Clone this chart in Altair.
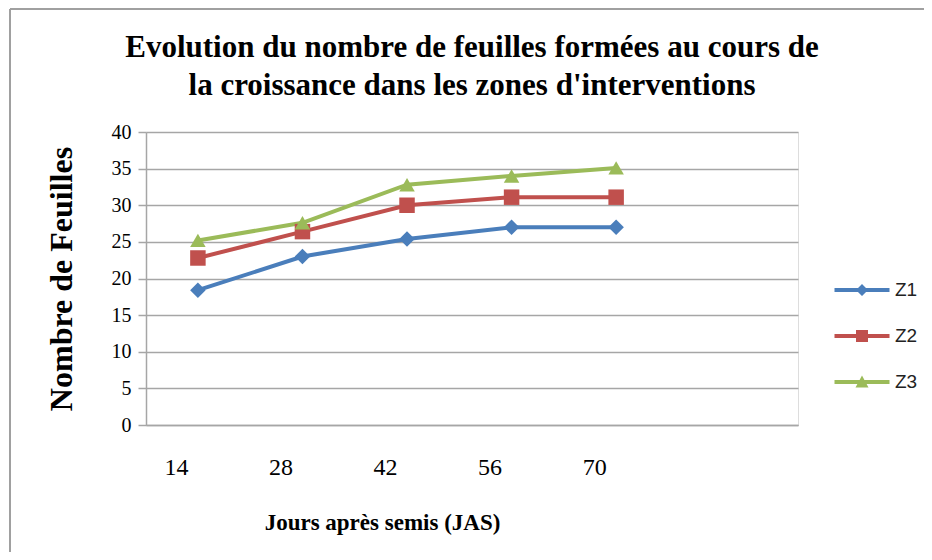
import altair as alt
import pandas as pd

days = [14, 28, 42, 56, 70]
z1 = [18.4, 23.0, 25.4, 27.0, 27.0]
z2 = [22.8, 26.4, 30.0, 31.1, 31.1]
z3 = [25.2, 27.6, 32.8, 34.0, 35.1]
series = ["Z1", "Z2", "Z3"]
colors = ["#4A7EBB", "#C0504D", "#9BBB59"]
shapes = ["diamond", "square", "triangle-up"]
y_ticks = [0, 5, 10, 15, 20, 25, 30, 35, 40]

rows = []
for name, vals in zip(series, [z1, z2, z3]):
    for d, v in zip(days, vals):
        rows.append({"jour": d, "feuilles": v, "serie": name, "serie2": name})
df = pd.DataFrame(rows)

W, H = 652, 293
PL, PT, PR, PB = 138, 124, 126, 127
GRID = "#A6A6A6"

xscale = alt.Scale(domain=[7.05, 94.35], nice=False, zero=False)
yscale = alt.Scale(domain=[0, 40], nice=False)

x_axis = alt.Axis(
    values=days, title="Jours après semis (JAS)", grid=False, ticks=False,
    domain=True, domainColor=GRID, domainWidth=1.5, labelOverlap=False,
    labelFont="Liberation Serif", labelFontSize=24, labelColor="#000",
    labelPadding=30, labelOffset=-22,
    titleFont="Liberation Serif", titleFontSize=23, titleFontWeight="bold",
    titleColor="#000", titlePadding=32, titleX=236,
)
y_axis = alt.Axis(
    values=y_ticks, title="Nombre de Feuilles", labelOverlap=False,
    grid=True, gridColor=GRID, gridWidth=1.5,
    ticks=True, tickSize=8, tickColor=GRID, tickWidth=1.5,
    domain=True, domainColor=GRID, domainWidth=1.5,
    labelFont="Liberation Serif", labelFontSize=20, labelColor="#000",
    labelPadding=7,
    titleFont="Liberation Serif", titleFontSize=32, titleFontWeight="bold",
    titleColor="#000", titlePadding=33,
)


def xe():
    return alt.X("jour:Q", scale=xscale, axis=x_axis)


def ye():
    return alt.Y("feuilles:Q", scale=yscale, axis=y_axis)


base = alt.Chart(df)

lines = base.mark_line(strokeWidth=4).encode(
    x=xe(), y=ye(),
    color=alt.Color("serie:N", scale=alt.Scale(domain=series, range=colors), legend=None),
    detail="serie:N",
)

points = base.mark_point(filled=True, opacity=1, size=240).encode(
    x=xe(), y=ye(),
    color=alt.Color("serie:N", scale=alt.Scale(domain=series, range=colors), legend=None),
    shape=alt.Shape("serie:N", scale=alt.Scale(domain=series, range=shapes), legend=None),
)

line_part = "M-2.75,-0.2H2.75V0.2H-2.75Z "
legend_shapes = [
    line_part + "M0,-0.6L0.6,0L0,0.6L-0.6,0Z",
    line_part + "M-0.6,-0.6H0.6V0.6H-0.6Z",
    line_part + "M-0.65,0.55L0,-0.65L0.65,0.55Z",
]


def leg():
    return alt.Legend(
        title=None, orient="none", legendX=706, legendY=148,
        symbolSize=400, symbolStrokeWidth=0, symbolOpacity=1,
        labelFont="Liberation Sans", labelFontSize=19, labelColor="#222",
        labelOffset=23, rowPadding=26, padding=0,
    )


legend_layer = base.transform_filter("false").mark_point(filled=True, opacity=1).encode(
    x=xe(), y=ye(),
    color=alt.Color("serie2:N", scale=alt.Scale(domain=series, range=colors), legend=leg()),
    shape=alt.Shape("serie2:N", scale=alt.Scale(domain=series, range=legend_shapes), legend=leg()),
)

frame_left = alt.Chart(pd.DataFrame({"k": [0]})).mark_rule(color="#A0A0A0", strokeWidth=2).encode(
    x=alt.value(-136), y=alt.value(-123), y2=alt.value(H + PB)
)
frame_top = alt.Chart(pd.DataFrame({"k": [0]})).mark_rule(color="#A0A0A0", strokeWidth=2).encode(
    x=alt.value(-136), x2=alt.value(W + PR), y=alt.value(-123)
)

chart = alt.layer(lines, points, legend_layer, frame_left, frame_top).resolve_scale(
    color="independent", shape="independent"
).properties(
    width=W, height=H,
    padding={"left": PL, "top": PT, "right": PR, "bottom": PB},
    autosize=alt.AutoSizeParams(type="none"),
    title=alt.Title(
        ["Evolution du nombre de feuilles formées au cours  de",
         "la croissance dans les zones d'interventions"],
        font="Liberation Serif", fontSize=31, fontWeight="bold", color="#000",
        anchor="middle", lineHeight=38, offset=-94, frame="group",
    ),
).configure_view(stroke=None).configure(background="white")

chart.save("out.html", embed_options={"renderer": "svg", "actions": False})
